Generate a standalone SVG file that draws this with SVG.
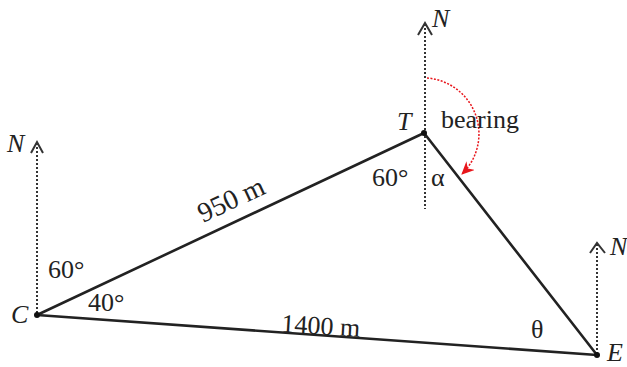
<svg xmlns="http://www.w3.org/2000/svg" width="627" height="367" viewBox="0 0 627 367">
<defs>
<style>
.t{font-family:"Liberation Serif","Times New Roman",serif;font-size:26px;fill:#222}
.i{font-style:italic}
.side{stroke:#222;stroke-width:2.6;fill:none;stroke-linecap:round}
.north{stroke:#333;stroke-width:2;stroke-dasharray:2 2;fill:none}
.head{stroke:#333;stroke-width:2;fill:none}
</style>
<marker id="red" markerWidth="14" markerHeight="12" refX="12" refY="6" orient="auto" markerUnits="userSpaceOnUse"><path d="M0,0 L13,6 L0,12 L4,6 Z" fill="#e8161c"/></marker>
</defs>
<rect width="627" height="367" fill="#fff"/>
<g id="connectors">
<line class="side" x1="37" y1="315" x2="424" y2="133"/>
<line class="side" x1="424" y1="133" x2="597" y2="355"/>
<line class="side" x1="37" y1="315" x2="597" y2="355"/>
<line class="north" x1="425" y1="24" x2="425" y2="209"/>
<polyline class="head" points="418,35 425,23 432,35"/>
<line class="north" x1="37" y1="143" x2="37" y2="315"/>
<polyline class="head" points="31,153 37,142 43,153"/>
<line class="north" x1="597" y1="244" x2="597" y2="355"/>
<polyline class="head" points="590,253 597,243 605,253"/>
<path d="M427,78 A56,56 0 0 1 462,174" fill="none" stroke="#e8161c" stroke-width="1.5" stroke-dasharray="2 1.5" marker-end="url(#red)"/>
</g>
<g id="T"><circle cx="424" cy="133" r="3" fill="#111"/><text class="t i" x="397" y="130">T</text></g>
<g id="C"><circle cx="37" cy="315" r="3" fill="#111"/><text class="t i" x="11" y="323">C</text></g>
<g id="E"><circle cx="597" cy="355" r="3" fill="#111"/><text class="t i" x="607" y="361">E</text></g>
<g id="labels">
<text class="t i" x="432" y="27">N</text>
<text class="t i" x="7" y="152">N</text>
<text class="t i" x="610" y="255">N</text>
<text class="t" x="441" y="128">bearing</text>
<text class="t" x="372" y="186">60°</text>
<text class="t" x="431" y="186">α</text>
<text class="t" x="48" y="278">60°</text>
<text class="t" x="88" y="311">40°</text>
<text class="t" x="531" y="338">θ</text>
<text class="t" style="font-size:28px" transform="translate(203,223) rotate(-25.2)">950 m</text>
<text class="t" transform="translate(281,332) rotate(3.5)">1400 m</text>
</g>
</svg>
